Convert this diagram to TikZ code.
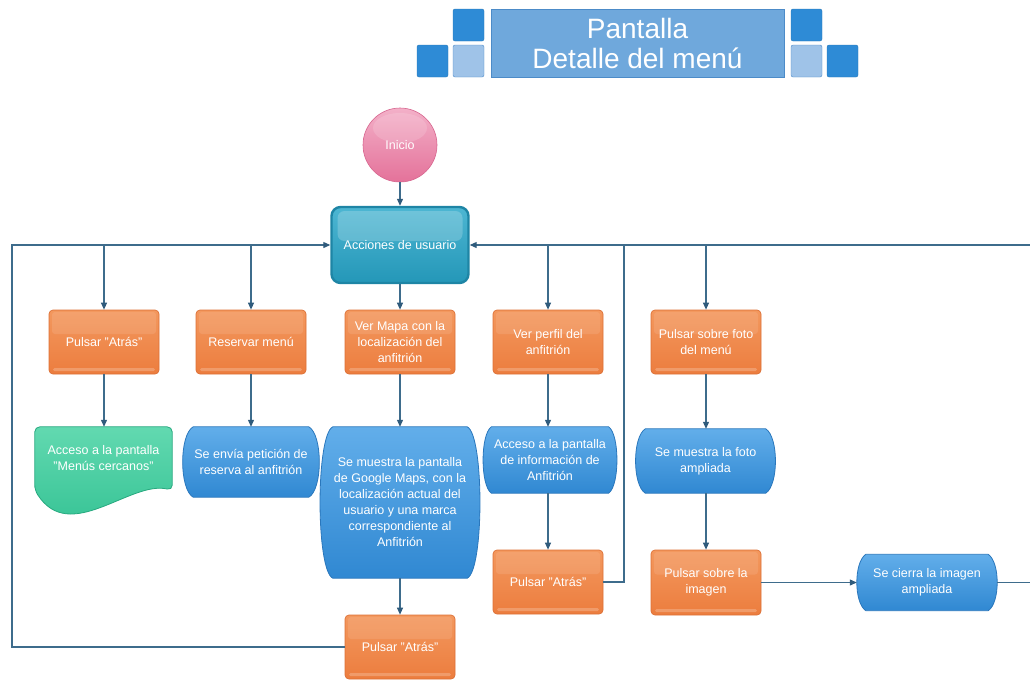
\documentclass[tikz,border=0pt]{standalone}
\usepackage{fontspec}
\setmainfont{Liberation Sans}
\usetikzlibrary{arrows.meta,calc,backgrounds}

\definecolor{linec}{HTML}{3E6C8C}
\definecolor{tipc}{HTML}{2F5B7C}
\definecolor{orangeT}{HTML}{F3985E}
\definecolor{orangeB}{HTML}{EC7D3E}
\definecolor{orangeD}{HTML}{DC7036}
\definecolor{blueT}{HTML}{62AEEA}
\definecolor{blueB}{HTML}{3088D2}
\definecolor{blueD}{HTML}{2A77BC}
\definecolor{greenT}{HTML}{62D9B0}
\definecolor{greenB}{HTML}{2EBF90}
\definecolor{greenD}{HTML}{27A97F}
\definecolor{tealT}{HTML}{4DB6D2}
\definecolor{tealB}{HTML}{2497B8}
\definecolor{tealD}{HTML}{1E85A5}
\definecolor{pinkT}{HTML}{F3B0C8}
\definecolor{pinkB}{HTML}{E4729A}
\definecolor{pinkD}{HTML}{D7668F}
\definecolor{titleF}{HTML}{6FA8DC}
\definecolor{titleE}{HTML}{4C8BC8}
\definecolor{titleD}{HTML}{2E8BD6}
\definecolor{titleL}{HTML}{9FC3E8}

\newcommand\boxfont{\fontsize{12.5}{16}\selectfont}
% straight double quote
\newcommand\qq{\symbol{34}}

% blue process shape: flat top and bottom, sides bulging outwards
\newcommand\bulgeshape[2]{%
  \path[top color=blueT,bottom color=blueB,draw=blueD,line width=0.8pt]
    (#1.north west) -- (#1.north east)
    .. controls ($(#1.north east)+(#2,8)$) and ($(#1.south east)+(#2,-8)$) .. (#1.south east)
    -- (#1.south west)
    .. controls ($(#1.south west)+(-#2,-8)$) and ($(#1.north west)+(-#2,8)$) .. (#1.north west)
    -- cycle;
}

\begin{document}
\begin{tikzpicture}[x=1pt,y=-1pt,
  conn/.style={draw=linec,line width=1.1pt},
  arr/.style={conn,-{Triangle[length=7pt,width=6pt,color=tipc]}},
  obox/.style={rectangle,rounded corners=4pt,minimum width=110pt,minimum height=64pt,
    inner sep=1pt,top color=orangeT,bottom color=orangeB,draw=orangeD,line width=0.7pt,
    text=white,align=center,font=\boxfont,
    path picture={
      \fill[white,opacity=0.1,rounded corners=3pt]
        ($(path picture bounding box.north west)+(3,2)$) rectangle
        ($(path picture bounding box.east)+(-3,-8)$);
      \fill[white,opacity=0.22,rounded corners=1.5pt]
        ($(path picture bounding box.south west)+(4,-6)$) rectangle
        ($(path picture bounding box.south east)+(-4,-3)$);}},
  tbox/.style={rectangle,inner sep=1pt,text=white,align=center,font=\boxfont},
  sq/.style={rectangle,rounded corners=2pt,minimum width=31pt,minimum height=32pt,inner sep=0pt},
  dsq/.style={sq,fill=titleD,draw=titleD!85!black},
  lsq/.style={sq,fill=titleL,draw=titleE}]

\useasboundingbox (0,0) rectangle (1030,681);

% title
\node[rectangle,minimum width=293pt,minimum height=68pt,fill=titleF,draw=titleE,line width=0.8pt,
  text=white,align=center,font=\fontsize{28}{30}\selectfont,inner sep=0pt] (title) at (637.5,43)
  {Pantalla\\Detalle del menú};
\node[dsq] (sqa) at (468.5,25) {};
\node[lsq] (sqb) at (468.5,61) {};
\node[dsq] (sqc) at (432.5,61) {};
\node[dsq] (sqd) at (806.5,25) {};
\node[lsq] (sqe) at (806.5,61) {};
\node[dsq] (sqf) at (842.5,61) {};

% start and main action
\node[circle,minimum size=74pt,inner sep=0pt,top color=pinkT,bottom color=pinkB,draw=pinkD,
  line width=0.6pt,text=white,font=\boxfont,
  path picture={\fill[white,opacity=0.15]
    ($(path picture bounding box.center)+(0,-17)$) ellipse (27pt and 15pt);}]
  (ini) at (400,145) {Inicio};
\node[rectangle,rounded corners=9pt,minimum width=137pt,minimum height=76pt,inner sep=1pt,
  top color=tealT,bottom color=tealB,draw=tealD,line width=2.4pt,text=white,font=\boxfont,
  path picture={\fill[white,opacity=0.2,rounded corners=7pt]
    ($(path picture bounding box.north west)+(6,4)$) rectangle
    ($(path picture bounding box.east)+(-6,-4)$);}]
  (acc) at (400,245) {Acciones de usuario};

% first row of actions
\node[obox] (atras1) at (104,342) {Pulsar \qq Atrás\qq};
\node[obox] (reserva) at (251,342) {Reservar menú};
\node[obox] (mapa) at (400,342) {Ver Mapa con la\\localización del\\anfitrión};
\node[obox] (perfil) at (548,342) {Ver perfil del\\anfitrión};
\node[obox] (foto) at (706,342) {Pulsar sobre foto\\del menú};

% results
\node[tbox,minimum width=137pt,minimum height=63pt] (cercanos) at (103.5,458.5)
  {Acceso a la pantalla\\\qq Menús cercanos\qq};
\node[tbox,minimum width=113pt,minimum height=70pt] (envia) at (251,462)
  {Se envía petición de\\reserva al anfitrión};
\node[tbox,minimum width=126pt,minimum height=151pt] (gmaps) at (400,502.5)
  {Se muestra la pantalla\\de Google Maps, con la\\localización actual del\\usuario y una marca\\correspondiente al\\Anfitrión};
\node[tbox,minimum width=117pt,minimum height=66pt] (info) at (550,460)
  {Acceso a la pantalla\\de información de\\Anfitrión};
\node[tbox,minimum width=120pt,minimum height=64pt] (ampliada) at (705.5,461)
  {Se muestra la foto\\ampliada};

% last row
\node[obox] (atras3) at (400,647) {Pulsar \qq Atrás\qq};
\node[obox] (atras2) at (548,582) {Pulsar \qq Atrás\qq};
\node[obox,minimum height=65pt] (imagen) at (706,582.5) {Pulsar sobre la\\imagen};
\node[tbox,minimum width=122pt,minimum height=56pt] (cierra) at (927,582.5)
  {Se cierra la imagen\\ampliada};

% shapes behind the result texts
\begin{scope}[on background layer]
  \path[top color=greenT,bottom color=greenB,draw=greenD,line width=0.8pt,rounded corners=5pt]
    (cercanos.south west) -- (cercanos.north west) -- (cercanos.north east) -- (cercanos.south east)
    .. controls ($(cercanos.south east)+(-42,-10)$) and ($(cercanos.south west)+(35,55)$) ..
    (cercanos.south west) -- cycle;
  \bulgeshape{envia}{14}
  \bulgeshape{gmaps}{17}
  \bulgeshape{info}{11}
  \bulgeshape{ampliada}{13}
  \bulgeshape{cierra}{12}
\end{scope}

% loop-back corners
\coordinate (lcorner) at (12,245);
\coordinate (rcorner) at (1036,245);
\coordinate (mcorner) at (624,245);

% connectors
\draw[arr] (ini) -- (acc);
\draw[arr] (acc) -- (mapa);
\draw[arr] (atras3.west) -| (lcorner) -- (acc.west);
\draw[arr] (atras1.north |- acc.west) -- (atras1.north);
\draw[arr] (reserva.north |- acc.west) -- (reserva.north);
\draw[arr] ($(cierra.east)+(9,0)$) -| (rcorner) -- (acc.east);
\draw[arr] (perfil.north |- acc.east) -- (perfil.north);
\draw[arr] (foto.north |- acc.east) -- (foto.north);
\draw[conn] (atras2.east) -| (mcorner);

\draw[arr] (atras1.south) -- (atras1.south |- cercanos.north);
\draw[arr] (reserva.south) -- (reserva.south |- envia.north);
\draw[arr] (mapa) -- (gmaps);
\draw[arr] (gmaps) -- (atras3);
\draw[arr] (perfil.south) -- (perfil.south |- info.north);
\draw[arr] (info.south -| perfil.south) -- (atras2.north);
\draw[arr] (foto.south) -- (foto.south |- ampliada.north);
\draw[arr] (ampliada.south -| foto.south) -- (imagen.north);
\draw[arr] (imagen.east) -- ($(cierra.west)+(-9,0)$);
\end{tikzpicture}
\end{document}
